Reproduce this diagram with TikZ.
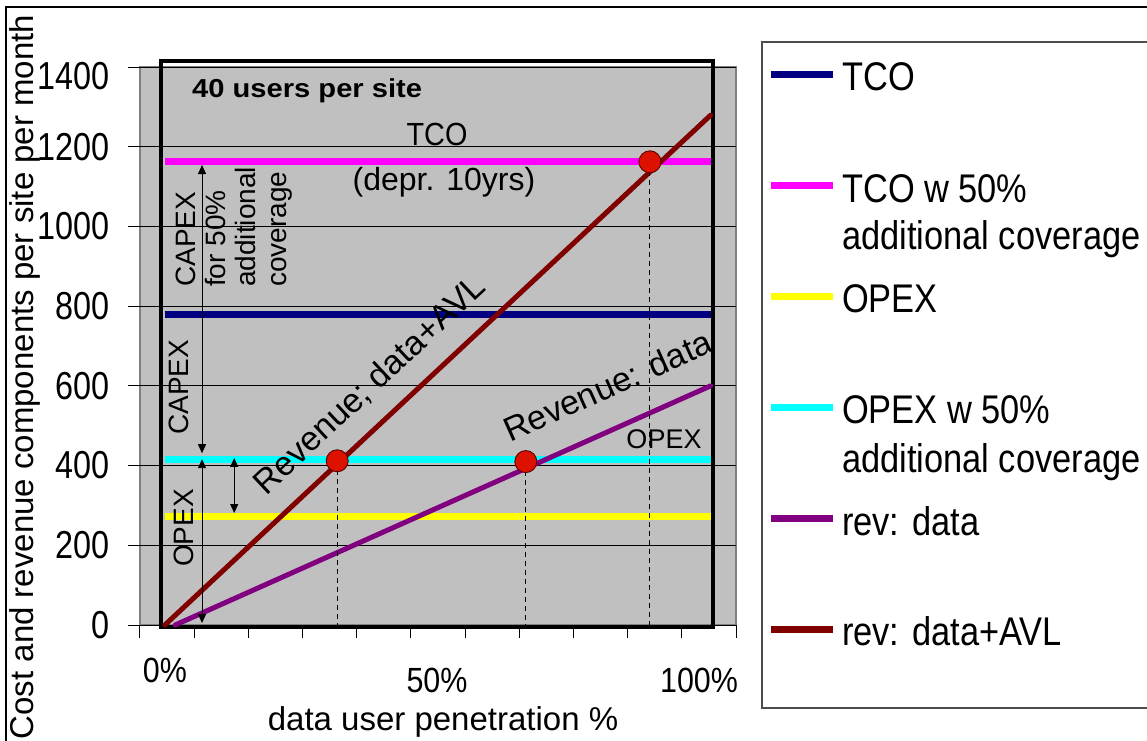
\documentclass[tikz,border=0pt]{standalone}
\usepackage{fontspec}
\setmainfont{Liberation Sans}
\usetikzlibrary{arrows.meta}
\definecolor{plotgray}{HTML}{C0C0C0}
\definecolor{framegray}{HTML}{808080}
\definecolor{tconavy}{HTML}{000080}
\definecolor{tcomag}{HTML}{FF00FF}
\definecolor{opexyel}{HTML}{FFFF00}
\definecolor{opexcyan}{HTML}{00FFFF}
\definecolor{revpurple}{HTML}{800080}
\definecolor{avlred}{HTML}{800000}
\definecolor{dotred}{HTML}{DD1100}

\begin{document}
\begin{tikzpicture}[x=1pt,y=-1pt,
  gridline/.style={black,line width=0.9pt},
  level/.style={line width=7pt},
  revline/.style={line width=5pt,line cap=round},
  drop/.style={black,line width=0.9pt,dash pattern=on 5pt off 4pt},
  cross/.style={circle,fill=dotred,draw=avlred!70!black,line width=0.9pt,minimum size=22pt,inner sep=0pt},
  span/.style={line width=0.9pt,{Triangle[length=9pt,width=8pt]}-{Triangle[length=9pt,width=8pt]}},
  ticklab/.style={font=\fontsize{39}{39}\selectfont,xscale=.83,inner sep=0pt},
  pctlab/.style={font=\fontsize{35}{35}\selectfont,xscale=.87,inner sep=0pt,anchor=base},
  plottext/.style={font=\fontsize{32}{32}\selectfont,inner sep=0pt,anchor=base},
  sidelab/.style={font=\fontsize{28}{28}\selectfont,rotate=90,anchor=base west,inner sep=0pt},
  slopelab/.style={font=\fontsize{34}{34}\selectfont,sloped,text=black,inner sep=3pt},
  legline/.style={line width=7pt},
  legtext/.style={font=\fontsize{40}{40}\selectfont,xscale=.86,anchor=base west,inner sep=0pt}]
\useasboundingbox (0,0) rectangle (1147,740);
\fill[white] (0,0) rectangle (1147,740);
\draw[line width=1.2pt] (6,800) -- (6,7) -- (1200,7);

% chart in data units: x = penetration in %, y = cost per site and month
\begin{scope}[shift={(167,625)},x=5.42pt,y=0.3986pt]
\filldraw[fill=plotgray,draw=framegray,line width=1.8pt] (-5,0) rectangle (105,1400);
\foreach \v in {0,200,...,1400}
  \draw[gridline] (-7.2,\v) -- (105,\v);
\foreach \c in {-5,5,...,105}
  \draw[gridline] (\c,0) -- (\c,-32);
\draw[line width=4pt] (-1.1,-5) rectangle (100.7,1414);
\foreach \v in {0,200,...,1200}
  \node[ticklab,anchor=east] (ytick\v) at (-10.5,\v) {\v};
\node[ticklab,anchor=east] (ytick1400) at (-10.5,1378) {1400};

\draw[level,tcomag] (-0.4,1162) -- (100.3,1162);
\draw[level,tconavy] (-0.4,778) -- (100.3,778);
\draw[level,opexcyan] (-0.4,414) -- (100.3,414);
\draw[level,opexyel] (-0.4,273) -- (100.3,273);

\draw[revline,revpurple] (1.5,0) -- node[slopelab,pos=.84,above=24pt] (revlab) {Revenue: data} (100.3,600);
\draw[revline,avlred] (-0.4,0) -- node[slopelab,pos=.42,above=15pt] (avllab) {Revenue; data+AVL} (100.3,1279);

\coordinate (hitA) at (31.4,412);
\coordinate (hitB) at (66.2,410);
\coordinate (hitC) at (89.1,1162);
\coordinate (footA) at (31.4,0);
\coordinate (footB) at (66.2,0);
\coordinate (footC) at (89.1,0);
\draw[drop] (hitA) -- (footA);
\draw[drop] (hitB) -- (footB);
\draw[drop] (hitC) -- (footC);
\node[cross] (dotA) at (hitA) {};
\node[cross] (dotB) at (hitB) {};
\node[cross] (dotC) at (hitC) {};

\coordinate (capTop) at (6.46,1154);
\coordinate (capBot) at (6.46,431);
\coordinate (opTop) at (6.46,416);
\coordinate (opBot) at (6.46,5);
\coordinate (extTop) at (12.4,419);
\coordinate (extBot) at (12.4,281);
\draw[span] (capTop) -- (capBot);
\draw[span] (opTop) -- (opBot);
\draw[span] (extTop) -- (extBot);
\end{scope}

\node[pctlab] (x0) at (165,682) {0\%};
\node[pctlab] (x50) at (437,692) {50\%};
\node[pctlab] (x100) at (699,692) {100\%};
\node[font=\fontsize{33}{33}\selectfont,anchor=base,inner sep=0pt] (xtitle) at (443,730) {data user penetration \%};
\node[font=\fontsize{33}{33}\selectfont,rotate=90,anchor=base,inner sep=0pt] (ytitle) at (33,377) {Cost and revenue components per site per month};

\node[font=\bfseries\fontsize{26}{26}\selectfont,xscale=1.12,anchor=base west,inner sep=0pt] (sitelab) at (192,97) {40 users per site};
\node[plottext,xscale=.9] (tcolab) at (437,145) {TCO};
\node[plottext] (deprlab) at (444,190) {(depr. 10yrs)};
\node[font=\fontsize{27}{27}\selectfont,anchor=base,inner sep=0pt] (opexlab) at (664,448) {OPEX};

\node[sidelab] (capexw) at (195,287) {CAPEX};
\node[sidelab] (forlab) at (225,287) {for 50\%};
\node[sidelab] (addlab) at (255,287) {additional};
\node[sidelab] (covlab) at (286,287) {coverage};
\node[sidelab] (capexlab) at (188,435) {CAPEX};
\node[sidelab] (opexside) at (193,567) {OPEX};

% legend
\draw[framegray!60!black,line width=1.5pt] (762,42) rectangle (1200,708);
\draw[legline,tconavy] (771,74) -- (833,74);
\draw[legline,tcomag] (771,185) -- (833,185);
\draw[legline,opexyel] (771,296) -- (833,296);
\draw[legline,opexcyan] (771,407) -- (833,407);
\draw[legline,revpurple] (771,518) -- (833,518);
\draw[legline,avlred] (771,629) -- (833,629);
\node[legtext] (legtco) at (842,90) {TCO};
\node[legtext] (legtcow) at (842,202) {TCO w 50\%};
\node[legtext] (legtcow2) at (842,249) {additional coverage};
\node[legtext] (legopex) at (842,312) {OPEX};
\node[legtext] (legopexw) at (842,423) {OPEX w 50\%};
\node[legtext] (legopexw2) at (842,472) {additional coverage};
\node[legtext] (legrev) at (842,535) {rev: data};
\node[legtext] (legavl) at (842,645) {rev: data+AVL};
\end{tikzpicture}
\end{document}
